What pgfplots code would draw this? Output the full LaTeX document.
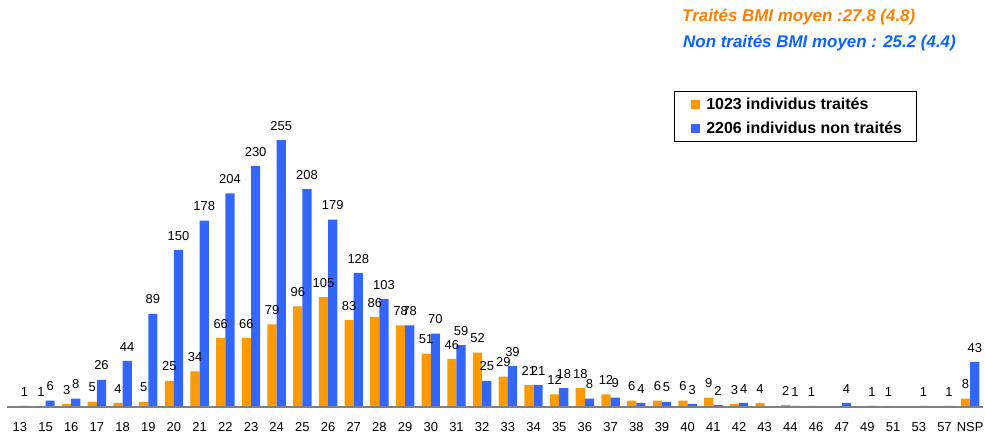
\documentclass[border=0pt]{standalone}
\usepackage{fontspec}
\setmainfont{Liberation Sans}
\usepackage{pgfplots}
\pgfplotsset{compat=1.18}
\definecolor{barorange}{HTML}{FF9900}
\definecolor{barblue}{HTML}{3366FF}
\definecolor{txtorange}{HTML}{FF8000}
\definecolor{txtblue}{HTML}{0A64FF}
\definecolor{axgray}{HTML}{808080}
\begin{document}
\begin{tikzpicture}[x=1bp,y=1bp]
\path[use as bounding box] (0,0) rectangle (985,438);
\begin{axis}[
  at={(7bp,31bp)}, anchor=south west,
  scale only axis, width=976bp, height=314.1bp,
  xmin=-0.5, xmax=37.5, ymin=0, ymax=300,
  ybar=0pt, bar width=9.2bp,
  axis on top, clip=false,
  axis x line*=bottom, axis y line=none,
  x axis line style={-, draw=axgray, line width=1.6bp},
  xtick={0,...,37},
  xticklabels={13,15,16,17,18,19,20,21,22,23,24,25,26,27,28,29,30,31,32,33,34,35,36,37,38,39,40,41,42,43,44,46,47,49,51,53,57,NSP},
  major tick length=0pt,
  xticklabel style={font=\fontsize{13}{15}\selectfont, anchor=north, inner sep=0pt, yshift=-15bp},
  /pgf/number format/assume math mode=true,
  nodes near coords,
  every node near coord/.append style={font=\fontsize{13}{15}\selectfont, anchor=south, inner sep=0pt, yshift=9.5bp, text=black},
  legend image code/.code={\path (0bp,0bp) -- (12bp,0bp); \fill[#1] (3bp,-4.5bp) rectangle (12bp,4.5bp);},
  legend style={at={(0.6834,1.006)}, anchor=north west, draw=black, line width=0.6bp, fill=white,
    inner xsep=14bp, inner ysep=7.9bp, row sep=13.8bp, column sep=6bp,
    font=\bfseries\fontsize{16}{18}\selectfont,
    nodes={inner sep=0pt, text height=10.2bp, text depth=0bp}},
  legend cell align=left,
]
\addplot[fill=barorange, draw=none] coordinates {
(1,1) (2,3) (3,5) (4,4) (5,5) (6,25) (7,34) (8,66) (9,66) (10,79) (11,96) (12,105) (13,83) (14,86) (15,78) (16,51) (17,46) (18,52) (19,29) (20,21) (21,12) (22,18) (23,12) (24,6) (25,6) (26,6) (27,9) (28,3) (29,4) (30,2) (31,1) (34,1) (37,8)};
\addlegendentry{1023 individus traités}
\addplot[fill=barblue, draw=none] coordinates {
(0,1) (1,6) (2,8) (3,26) (4,44) (5,89) (6,150) (7,178) (8,204) (9,230) (10,255) (11,208) (12,179) (13,128) (14,103) (15,78) (16,70) (17,59) (18,25) (19,39) (20,21) (21,18) (22,8) (23,9) (24,4) (25,5) (26,3) (27,2) (28,4) (30,1) (32,4) (33,1) (35,1) (36,1) (37,43)};
\addlegendentry{2206 individus non traités}
\end{axis}
\node[anchor=west, inner sep=0pt, text=txtorange, font=\bfseries\itshape\fontsize{17}{19}\selectfont] at (682,421) {Traités BMI moyen :27.8 (4.8)};
\node[anchor=west, inner sep=0pt, text=txtblue, font=\bfseries\itshape\fontsize{17}{19}\selectfont] at (683,395) {Non traités BMI moyen : 25.2 (4.4)};
\end{tikzpicture}
\end{document}
